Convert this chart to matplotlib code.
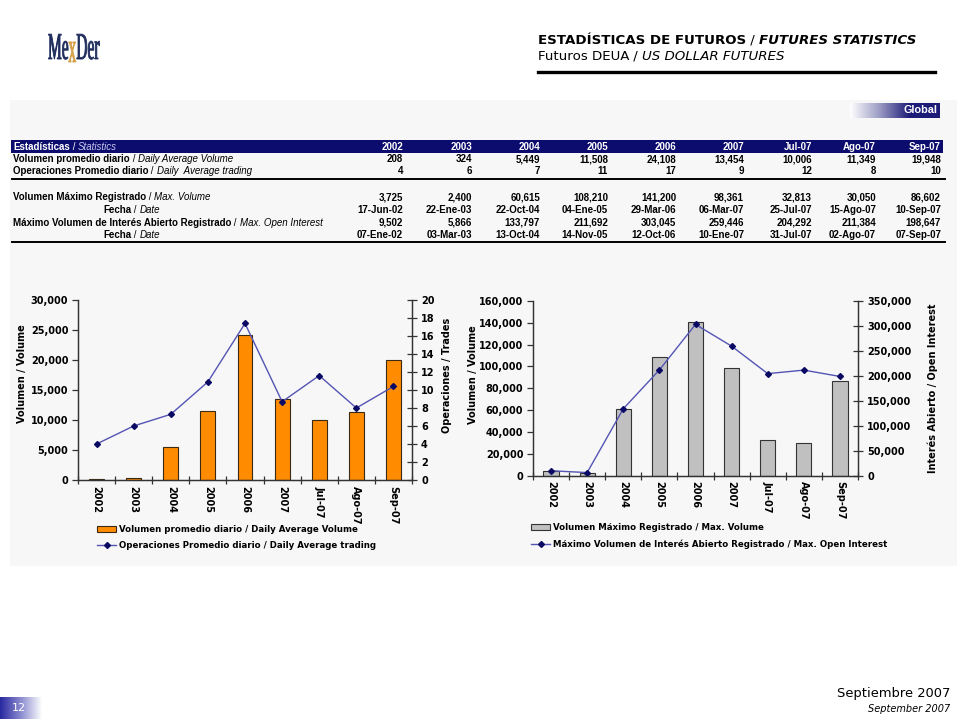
import matplotlib
matplotlib.use("Agg")
import matplotlib.pyplot as plt
import numpy as np
from matplotlib.text import Annotation
from matplotlib.ticker import FixedLocator, StrMethodFormatter, MultipleLocator
from matplotlib.colors import LinearSegmentedColormap
from matplotlib.lines import Line2D
from matplotlib.patches import Rectangle, PathPatch
from matplotlib.textpath import TextPath
from matplotlib.font_manager import FontProperties
from matplotlib.transforms import Affine2D

# ---------------- data ----------------
categories = ["2002", "2003", "2004", "2005", "2006", "2007", "Jul-07", "Ago-07", "Sep-07"]
daily_avg_volume = [208, 324, 5449, 11508, 24108, 13454, 10006, 11349, 19948]
daily_avg_trading_table = [4, 6, 7, 11, 17, 9, 12, 8, 10]
daily_avg_trading_plot = [4.0, 6.0, 7.3, 10.9, 17.4, 8.7, 11.6, 8.0, 10.4]
max_volume = [3725, 2400, 60615, 108210, 141200, 98361, 32813, 30050, 86602]
max_volume_date = ["17-Jun-02", "22-Ene-03", "22-Oct-04", "04-Ene-05", "29-Mar-06",
                   "06-Mar-07", "25-Jul-07", "15-Ago-07", "10-Sep-07"]
max_open_interest = [9502, 5866, 133797, 211692, 303045, 259446, 204292, 211384, 198647]
max_oi_date = ["07-Ene-02", "03-Mar-03", "13-Oct-04", "14-Nov-05", "12-Oct-06",
               "10-Ene-07", "31-Jul-07", "02-Ago-07", "07-Sep-07"]

# ---------------- figure ----------------
plt.rcParams["font.family"] = ["DejaVu Sans"]
plt.rcParams["font.weight"] = "bold"
W, H = 960, 720
fig = plt.figure(figsize=(9.6, 7.2), dpi=100)
fig.patch.set_facecolor("white")


def fx(x):
    return x / W


def fy(y):
    return 1 - y / H


def rich(x, y, parts, ha="left", va="center", **common):
    """parts: list of (text, dict of props)"""
    t0 = fig.text(fx(x), fy(y), parts[0][0], ha=ha, va=va, **common, **parts[0][1])
    prev = t0
    for s, props in parts[1:]:
        a = Annotation(s, xy=(1, 0), xycoords=prev, ha="left", va="bottom",
                       **common, **props)
        fig.add_artist(a)
        prev = a
    return t0


NAVY = "#0c0c6e"

# light panel
fig.add_artist(Rectangle((fx(10), fy(566)), fx(957) - fx(10), (566 - 100) / H,
                         transform=fig.transFigure, facecolor="#f7f7f7",
                         edgecolor="none", zorder=-5))

# ---------------- logo ----------------
logo_prop = FontProperties(family="Liberation Serif", weight="normal")
pix = Affine2D().scale(1.0 / W, 1.0 / H) + fig.transFigure
xcur = 48
for s, col in [("Me", "#1f2d5c"), ("x", "#d4a04a"), ("Der", "#1f2d5c")]:
    tp = TextPath((0, 0), s, size=1, prop=logo_prop)
    ext = tp.get_extents()
    sx, sy = 15.5, 38
    if s == "x":
        tr = Affine2D().scale(sx, sy * 1.15).translate(xcur, H - 62)
    else:
        tr = Affine2D().scale(sx, sy).translate(xcur, H - 59)
    path = tr.transform_path(tp)
    fig.add_artist(PathPatch(path, facecolor=col, edgecolor=col, lw=0.6, transform=pix))
    xcur += ext.x1 * sx + 0.3

# ---------------- header ----------------
hdr_common = dict(fontsize=9.6, color="black")
rich(538, 40, [("ESTADÍSTICAS DE FUTUROS", dict(fontweight="bold")),
               (" / ", dict(fontweight="normal")),
               ("FUTURES STATISTICS", dict(fontweight="bold", fontstyle="italic"))],
     **hdr_common)
rich(538, 56, [("Futuros DEUA", dict(fontweight="normal")),
               (" / ", dict(fontweight="normal")),
               ("US DOLLAR FUTURES", dict(fontweight="normal", fontstyle="italic"))],
     **hdr_common)
fig.add_artist(Line2D([fx(538), fx(935)], [fy(72), fy(72)], color="black", lw=2.4,
                      transform=fig.transFigure))

# Global badge
cmap_g = LinearSegmentedColormap.from_list("g", ["#ffffff", "#9a9ac4", "#1c1c78", "#1c1c78"])
axg = fig.add_axes([fx(850), fy(118), (940 - 850) / W, 15 / H])
axg.imshow(np.linspace(0, 1, 256)[None, :], aspect="auto", cmap=cmap_g)
axg.set_axis_off()
fig.text(fx(937), fy(110), "Global", ha="right", va="center", color="white",
         fontsize=7.8, fontweight="bold", family="Liberation Sans")

# page badge
cmap_p = LinearSegmentedColormap.from_list("p", ["#2828a0", "#8c8cd0", "#ffffff"])
axp = fig.add_axes([0, fy(719), 42 / W, 22 / H])
axp.imshow(np.linspace(0, 1, 256)[None, :], aspect="auto", cmap=cmap_p)
axp.set_axis_off()
fig.text(fx(12), fy(708), "12", ha="left", va="center", color="white",
         fontsize=8, fontweight="normal")

# footer
fig.text(fx(950), fy(693), "Septiembre 2007", ha="right", va="center",
         fontsize=9.4, fontweight="normal")
fig.text(fx(950), fy(709), "September 2007", ha="right", va="center",
         fontsize=7, fontweight="normal", fontstyle="italic")

# ---------------- table ----------------
tcommon = dict(fontsize=7.0, family="Liberation Sans")
col_right = [403, 472, 540, 608, 676, 744, 812, 876, 941]

fig.add_artist(Rectangle((fx(11), fy(153)), fx(943) - fx(11), 13 / H,
                         transform=fig.transFigure, facecolor=NAVY, edgecolor="none"))
rich(13, 146.5, [("Estadísticas", dict(fontweight="bold", color="white")),
                 (" / ", dict(fontweight="normal", color="white")),
                 ("Statistics", dict(fontweight="normal", fontstyle="italic", color="#c8c8f0"))],
     **tcommon)
for c, xr in zip(categories, col_right):
    fig.text(fx(xr), fy(146.5), c, ha="right", va="center", color="white",
             fontweight="bold", **tcommon)

rows = [
    (159, 13, "Volumen promedio diario", "Daily Average Volume", [f"{v:,}" for v in daily_avg_volume]),
    (171.5, 13, "Operaciones Promedio diario", "Daily  Average trading", [f"{v:,}" for v in daily_avg_trading_table]),
    (197.5, 13, "Volumen Máximo Registrado", "Max. Volume", [f"{v:,}" for v in max_volume]),
    (210, 103, "Fecha", "Date", max_volume_date),
    (222.5, 13, "Máximo Volumen de Interés Abierto Registrado", "Max. Open Interest", [f"{v:,}" for v in max_open_interest]),
    (234.5, 103, "Fecha", "Date", max_oi_date),
]
for y, x0, bold, ital, vals in rows:
    rich(x0, y, [(bold, dict(fontweight="bold")),
                 (" / ", dict(fontweight="normal")),
                 (ital, dict(fontweight="normal", fontstyle="italic"))],
         color="black", **tcommon)
    for v, xr in zip(vals, col_right):
        fig.text(fx(xr), fy(y), v, ha="right", va="center", fontweight="bold",
                 color="black", **tcommon)

for yl in (178.5, 241.5):
    fig.add_artist(Line2D([fx(12), fx(945)], [fy(yl), fy(yl)], color="black", lw=1.4,
                          transform=fig.transFigure))

# ---------------- charts ----------------
x = np.arange(len(categories))
LINE_C = "#5454b4"
MARK_C = "#0a0a64"
SPINE_C = "#333333"


def style_axes(ax, axr):
    for a in (ax, axr):
        a.set_facecolor("none")
        a.spines["top"].set_visible(False)
        for s in ("left", "right", "bottom"):
            a.spines[s].set_color(SPINE_C)
            a.spines[s].set_linewidth(0.9)
    ax.set_xlim(-0.5, len(categories) - 0.5)
    ax.xaxis.set_major_locator(FixedLocator(x))
    ax.set_xticklabels(categories, rotation=-90, fontsize=7, fontweight="bold")
    ax.xaxis.set_minor_locator(FixedLocator(np.arange(len(categories) + 1) - 0.5))
    ax.tick_params(axis="x", which="major", length=0, pad=4)
    ax.tick_params(axis="x", which="minor", direction="inout", length=6, width=0.9, color=SPINE_C)
    ax.tick_params(axis="y", direction="out", length=4, width=0.9, labelsize=7, color=SPINE_C, pad=3)
    axr.tick_params(axis="y", direction="inout", length=7, width=0.9, labelsize=7, color=SPINE_C, pad=3)
    for lab in ax.get_yticklabels() + axr.get_yticklabels():
        lab.set_fontweight("bold")


# left chart
ax1 = fig.add_axes([fx(78), fy(480), (412 - 78) / W, 180 / H])
bars1 = ax1.bar(x, daily_avg_volume, width=0.4, color="#ff8c00", edgecolor="#3a2a14", linewidth=0.8)
ax1.set_ylim(0, 30000)
ax1.yaxis.set_major_locator(MultipleLocator(5000))
ax1.yaxis.set_major_formatter(StrMethodFormatter("{x:,.0f}"))
ax1r = ax1.twinx()
line1, = ax1r.plot(x, daily_avg_trading_plot, color=LINE_C, lw=1, marker="D", ms=3,
                   mfc=MARK_C, mec=MARK_C)
ax1r.set_ylim(0, 20)
ax1r.yaxis.set_major_locator(MultipleLocator(2))
style_axes(ax1, ax1r)
ax1.set_ylabel("Volumen / Volume", fontsize=7, fontweight="bold")
ax1.yaxis.set_label_coords(-0.153, 0.59)
ax1r.set_ylabel("Operaciones / Trades", fontsize=7, fontweight="bold", rotation=90)
ax1r.yaxis.set_label_coords(1.09, 0.58)

fig.legend([bars1, line1],
           ["Volumen promedio diario / Daily Average Volume",
            "Operaciones Promedio diario / Daily Average trading"],
           loc="upper left", bbox_to_anchor=(fx(97), fy(525)), frameon=False,
           prop=dict(size=6.25, weight="bold"), handlelength=2.2, handletextpad=0.3,
           labelspacing=0.85, borderpad=0, borderaxespad=0)

# right chart
ax2 = fig.add_axes([fx(533), fy(475.5), (858 - 533) / W, 174.5 / H])
bars2 = ax2.bar(x, max_volume, width=0.42, color="#c0c0c0", edgecolor="#333333", linewidth=0.8)
ax2.set_ylim(0, 160000)
ax2.yaxis.set_major_locator(MultipleLocator(20000))
ax2.yaxis.set_major_formatter(StrMethodFormatter("{x:,.0f}"))
ax2r = ax2.twinx()
line2, = ax2r.plot(x, max_open_interest, color=LINE_C, lw=1, marker="D", ms=3,
                   mfc=MARK_C, mec=MARK_C)
ax2r.set_ylim(0, 350000)
ax2r.yaxis.set_major_locator(MultipleLocator(50000))
ax2r.yaxis.set_major_formatter(StrMethodFormatter("{x:,.0f}"))
style_axes(ax2, ax2r)
ax2.set_ylabel("Volumen / Volume", fontsize=7, fontweight="bold")
ax2.yaxis.set_label_coords(-0.169, 0.58)
ax2r.set_ylabel("Interés Abierto / Open Interest", fontsize=7, fontweight="bold", rotation=90)
ax2r.yaxis.set_label_coords(1.215, 0.5)

fig.legend([bars2, line2],
           ["Volumen Máximo Registrado / Max. Volume",
            "Máximo Volumen de Interés Abierto Registrado / Max. Open Interest"],
           loc="upper left", bbox_to_anchor=(fx(531), fy(523)), frameon=False,
           prop=dict(size=6.25, weight="bold"), handlelength=2.2, handletextpad=0.3,
           labelspacing=0.85, borderpad=0, borderaxespad=0)

fig.savefig("out.png", dpi=100, facecolor="white")
